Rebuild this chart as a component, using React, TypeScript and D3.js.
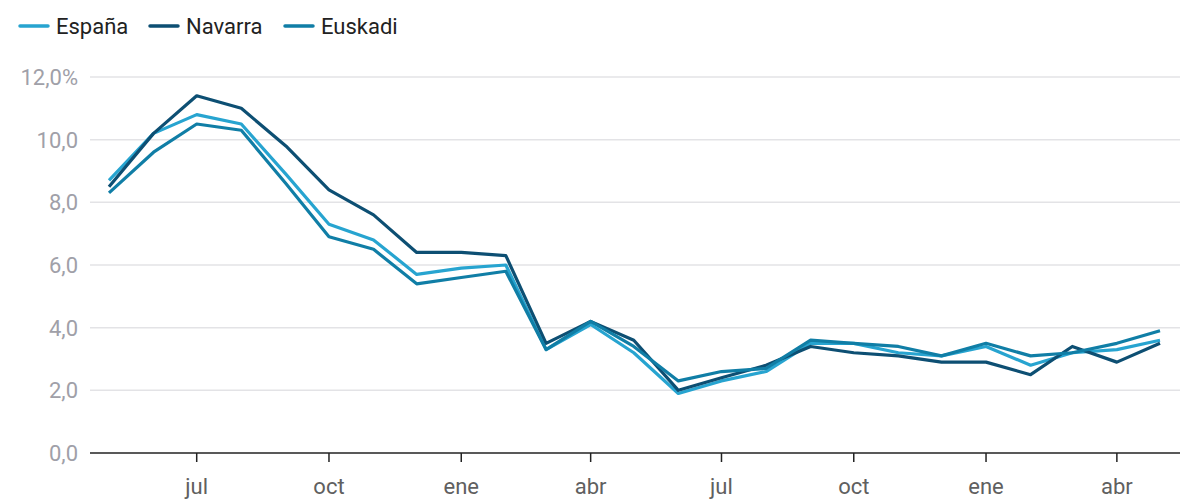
import { useEffect, useRef } from 'react';
import * as d3 from 'd3';

// monthly data, may 2022 - may 2024
const months = [
  '2022-05', '2022-06', '2022-07', '2022-08', '2022-09', '2022-10', '2022-11', '2022-12',
  '2023-01', '2023-02', '2023-03', '2023-04', '2023-05', '2023-06', '2023-07', '2023-08',
  '2023-09', '2023-10', '2023-11', '2023-12', '2024-01', '2024-02', '2024-03', '2024-04', '2024-05',
];

const espana = [8.7, 10.2, 10.8, 10.5, 8.9, 7.3, 6.8, 5.7, 5.9, 6.0, 3.3, 4.1, 3.2, 1.9, 2.3, 2.6, 3.5, 3.5, 3.2, 3.1, 3.4, 2.8, 3.2, 3.3, 3.6];
const navarra = [8.5, 10.2, 11.4, 11.0, 9.8, 8.4, 7.6, 6.4, 6.4, 6.3, 3.5, 4.2, 3.6, 2.0, 2.4, 2.8, 3.4, 3.2, 3.1, 2.9, 2.9, 2.5, 3.4, 2.9, 3.5];
const euskadi = [8.3, 9.6, 10.5, 10.3, 8.6, 6.9, 6.5, 5.4, 5.6, 5.8, 3.3, 4.2, 3.4, 2.3, 2.6, 2.7, 3.6, 3.5, 3.4, 3.1, 3.5, 3.1, 3.2, 3.5, 3.9];

const yTicks = [0, 2, 4, 6, 8, 10, 12];
const xTicks = ['2022-07', '2022-10', '2023-01', '2023-04', '2023-07', '2023-10', '2024-01', '2024-04'];
const monthNames = ['ene', 'feb', 'mar', 'abr', 'may', 'jun', 'jul', 'ago', 'sep', 'oct', 'nov', 'dic'];

const series = [
  { name: 'España', values: espana, color: '#27a4d0' },
  { name: 'Navarra', values: navarra, color: '#0d4f73' },
  { name: 'Euskadi', values: euskadi, color: '#107ea6' },
];

const parse = d3.timeParse('%Y-%m');

export default function App() {
  const svgRef = useRef<SVGSVGElement>(null);
  const width = 1200;
  const height = 500;

  useEffect(() => {
    document.body.style.margin = '0';
    if (!svgRef.current) return;
    const svg = d3.select(svgRef.current);
    svg.selectAll('*').remove();

    const left = 90;
    const right = 1180;
    const dates = months.map(m => parse(m) as Date);

    const x = d3.scaleTime()
      .domain([dates[0], dates[dates.length - 1]])
      .range([109, 1160]);

    const y = d3.scaleLinear().domain([0, 12]).range([453, 77]);

    // grid
    svg.append('g')
      .selectAll('line')
      .data(yTicks.filter(d => d > 0))
      .enter().append('line')
      .attr('x1', left).attr('x2', right)
      .attr('y1', d => y(d)).attr('y2', d => y(d))
      .attr('stroke', '#e3e3e6').attr('stroke-width', 1.5);

    // y labels
    svg.append('g')
      .selectAll('text')
      .data(yTicks)
      .enter().append('text')
      .attr('x', 78).attr('y', d => y(d) + 8)
      .attr('text-anchor', 'end')
      .attr('fill', '#a0a0a8')
      .attr('font-family', 'Roboto, sans-serif')
      .attr('font-size', '22px')
      .text(d => d3.format('.1f')(d).replace('.', ',') + (d === 12 ? '%' : ''));

    // x axis
    svg.append('line')
      .attr('x1', left).attr('x2', right)
      .attr('y1', y(0)).attr('y2', y(0))
      .attr('stroke', '#222').attr('stroke-width', 1.5);

    const xt = svg.append('g')
      .selectAll('g')
      .data(xTicks.map(m => parse(m) as Date))
      .enter().append('g')
      .attr('transform', d => `translate(${x(d)},${y(0)})`);
    xt.append('line').attr('y1', 0).attr('y2', 9).attr('stroke', '#222').attr('stroke-width', 1.5);
    xt.append('text')
      .attr('y', 41)
      .attr('text-anchor', 'middle')
      .attr('fill', '#606060')
      .attr('font-family', 'Roboto, sans-serif')
      .attr('font-size', '22px')
      .text(d => monthNames[d.getMonth()]);

    // lines
    const line = d3.line<number>()
      .x((_, i) => x(dates[i]))
      .y(d => y(d));

    series.forEach(s => {
      svg.append('path')
        .datum(s.values)
        .attr('fill', 'none')
        .attr('stroke', s.color)
        .attr('stroke-width', 3.2)
        .attr('stroke-linejoin', 'round')
        .attr('d', line);
    });

    // legend
    const legendX = [20, 150, 285];
    const legend = svg.append('g')
      .selectAll('g')
      .data(series)
      .enter().append('g')
      .attr('transform', (_, i) => `translate(${legendX[i]},26)`);
    legend.append('line')
      .attr('x1', 0).attr('x2', 28).attr('y1', 0).attr('y2', 0)
      .attr('stroke', d => d.color).attr('stroke-width', 3.5).attr('stroke-linecap', 'round');
    legend.append('text')
      .attr('x', 36).attr('y', 8)
      .attr('fill', '#222')
      .attr('font-family', 'Roboto, sans-serif')
      .attr('font-size', '22px')
      .text(d => d.name);
  }, []);

  return <svg ref={svgRef} width={width} height={height} style={{ display: 'block' }} />;
}
